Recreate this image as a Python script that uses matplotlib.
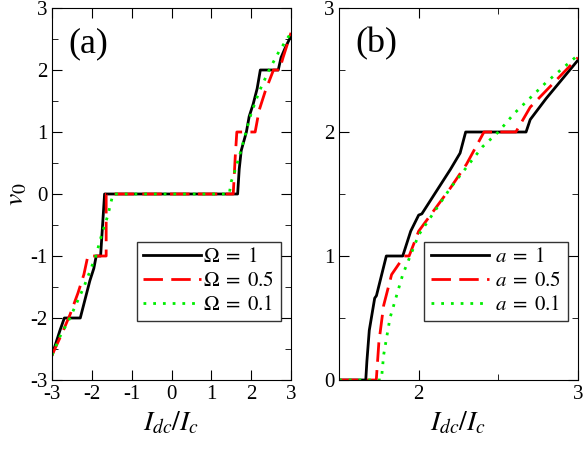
import matplotlib
matplotlib.use("Agg")
import matplotlib.pyplot as plt
from matplotlib.ticker import MultipleLocator

plt.rcParams["font.family"] = "Liberation Serif"
plt.rcParams["mathtext.fontset"] = "stix"
plt.rcParams["axes.unicode_minus"] = False

# panel (a): right half and left half points
a1_x = [1.66, 1.70, 1.75, 1.88, 1.95, 2.05, 2.15, 2.23, 2.68, 2.75, 2.85, 3.0]
a1_y = [0.0, 0.4, 0.7, 1.0, 1.25, 1.45, 1.7, 2.0, 2.0, 2.2, 2.35, 2.55]
a1_lx = [-1.68, -1.73, -1.78, -1.89, -1.95, -2.05, -2.15, -2.29, -2.69, -2.8, -2.9, -3.0]
a1_ly = [0.0, -0.5, -1.0, -1.0, -1.2, -1.4, -1.65, -2.0, -2.0, -2.2, -2.4, -2.6]

a2_x = [1.55, 1.60, 1.64, 1.72, 2.1, 2.2, 2.35, 2.56, 2.71, 2.8, 3.0]
a2_y = [0.0, 0.6, 1.0, 1.0, 1.0, 1.35, 1.65, 2.0, 2.0, 2.2, 2.6]
a2_lx = [-1.64, -1.64, -2.1, -2.2, -2.35, -2.55, -2.75, -3.0]
a2_ly = [0.0, -1.0, -1.0, -1.3, -1.6, -1.95, -2.25, -2.6]

a3_x = [1.45, 1.5, 1.58, 1.7, 1.85, 2.0, 2.2, 2.45, 2.7, 3.0]
a3_y = [0.0, 0.2, 0.35, 0.6, 0.95, 1.3, 1.65, 2.0, 2.3, 2.6]
a3_lx = [-1.47, -1.6, -1.75, -1.9, -2.2, -2.55, -2.8, -3.0]
a3_ly = [0.0, -0.35, -0.65, -1.0, -1.5, -2.0, -2.3, -2.6]

# panel (b)
b1_x = [1.5, 1.668, 1.675, 1.69, 1.724, 1.735, 1.797, 1.90, 1.95, 2.0, 2.02, 2.1, 2.2, 2.26, 2.295, 2.674, 2.7, 2.8, 3.0]
b1_y = [0.0, 0.0, 0.15, 0.4, 0.66, 0.68, 1.0, 1.0, 1.2, 1.33, 1.34, 1.5, 1.7, 1.83, 2.0, 2.0, 2.1, 2.27, 2.58]
b2_x = [1.5, 1.734, 1.75, 1.78, 1.83, 1.91, 1.94, 2.0, 2.2, 2.3, 2.41, 2.61, 2.7, 3.0]
b2_y = [0.0, 0.0, 0.3, 0.6, 0.85, 1.0, 1.0, 1.2, 1.55, 1.74, 2.0, 2.0, 2.2, 2.6]
b3_x = [1.5, 1.766, 1.78, 1.82, 1.9, 2.0, 2.2, 2.4, 2.5, 2.6, 2.8, 3.0]
b3_y = [0.0, 0.0, 0.2, 0.5, 0.85, 1.17, 1.55, 1.88, 2.0, 2.15, 2.4, 2.62]

fig = plt.figure(figsize=(5.83, 4.5), dpi=100)
ax1 = fig.add_axes([52 / 583, 70 / 450, 239 / 583, 372 / 450])
ax2 = fig.add_axes([339 / 583, 70 / 450, 239 / 583, 372 / 450])

ax1.plot(a1_lx[::-1] + a1_x, a1_ly[::-1] + a1_y, color="black", lw=2, label=r"$\Omega\;=\;1$")
ax1.plot(a2_lx[::-1] + a2_x, a2_ly[::-1] + a2_y, color="red", lw=2, dashes=(7, 3), label=r"$\Omega\;=\;0.5$")
ax1.plot(a3_lx[::-1] + a3_x, a3_ly[::-1] + a3_y, color="#00ee00", lw=2, ls=(0, (1, 2.5)), label=r"$\Omega\;=\;0.1$")
ax1.set_xlim(-3, 3)
ax1.set_ylim(-3, 3)
ax1.xaxis.set_major_locator(MultipleLocator(1))
ax1.yaxis.set_major_locator(MultipleLocator(1))
ax1.yaxis.set_minor_locator(MultipleLocator(0.5))
ax1.set_xlabel(r"$I_{dc}/I_c$", fontsize=20)
ax1.set_ylabel(r"$v_0$", fontsize=20, labelpad=0)
ax1.text(0.07, 0.88, "(a)", transform=ax1.transAxes, fontsize=26)
ax1.legend(loc="lower right", bbox_to_anchor=(1.0, 0.13), fontsize=15, frameon=True, fancybox=False,
           edgecolor="black", handlelength=2.8, handletextpad=0.1, borderpad=0.3, labelspacing=0.2)

ax2.plot(b1_x, b1_y, color="black", lw=2, label=r"$a\;=\;1$")
ax2.plot(b2_x, b2_y, color="red", lw=2, dashes=(7, 3), label=r"$a\;=\;0.5$")
ax2.plot(b3_x, b3_y, color="#00ee00", lw=2, ls=(0, (1, 2.5)), label=r"$a\;=\;0.1$")
ax2.set_xlim(1.5, 3)
ax2.set_ylim(0, 3)
ax2.xaxis.set_major_locator(MultipleLocator(1))
ax2.xaxis.set_minor_locator(MultipleLocator(0.5))
ax2.yaxis.set_major_locator(MultipleLocator(1))
ax2.yaxis.set_minor_locator(MultipleLocator(0.5))
ax2.set_xlabel(r"$I_{dc}/I_c$", fontsize=20)
ax2.text(0.07, 0.88, "(b)", transform=ax2.transAxes, fontsize=26)
ax2.legend(loc="lower right", bbox_to_anchor=(1.0, 0.13), fontsize=15, frameon=True, fancybox=False,
           edgecolor="black", handlelength=2.8, handletextpad=0.3, borderpad=0.3, labelspacing=0.2)

for ax in (ax1, ax2):
    ax.tick_params(which="both", direction="in", top=True, right=True, labelsize=15)
    ax.tick_params(which="major", length=7)
    ax.tick_params(which="minor", length=4)
    ax.legend_.get_frame().set_linewidth(1.0)

fig.savefig("out.png", dpi=100)
